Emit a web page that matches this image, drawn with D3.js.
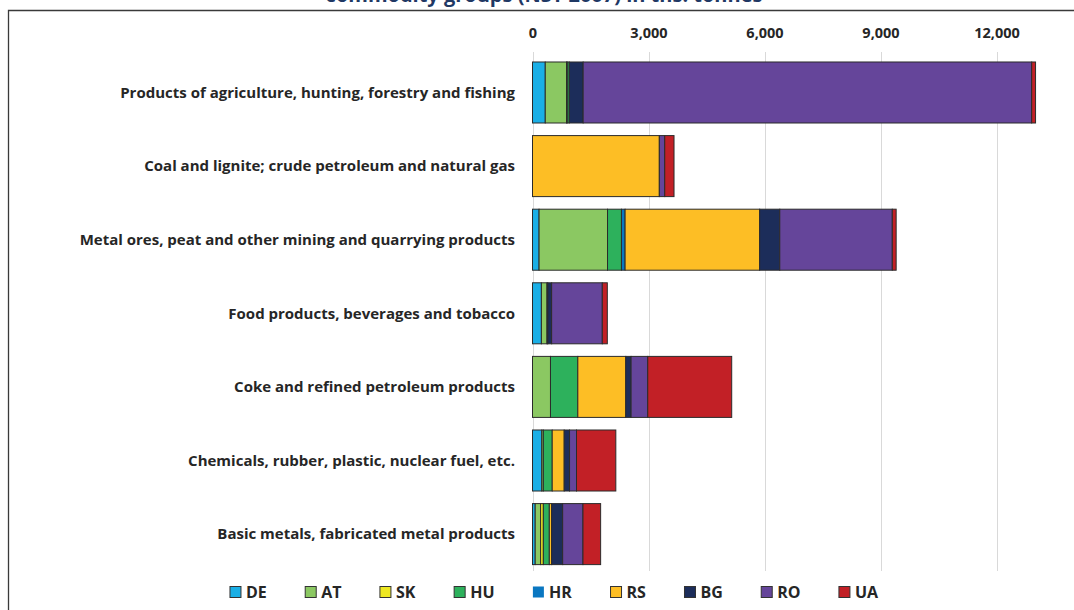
<!DOCTYPE html>
<html>
  <head>
    <title>Commodity groups</title>
    <script src="https://d3js.org/d3.v7.min.js"></script>
    <style type="text/css">
body {
  margin: 0;
  background: #fff;
}
svg {
  display: block;
  font-family: "Open Sans", "DejaVu Sans", sans-serif;
}
.cat text {
  font-size: 15px;
  font-weight: bold;
  fill: #262626;
}
.xaxis text {
  font-size: 14.5px;
  font-weight: bold;
  fill: #262626;
}
line.grid {
  stroke: #d9d9d9;
  stroke-width: 1px;
}
rect.seg {
  stroke: #2b2b2b;
  stroke-width: 1px;
}
.legend text {
  font-size: 16px;
  font-weight: bold;
  fill: #262626;
}
    </style>
  </head>
  <body>
    <script type="text/javascript">

var width = 1074,   // svg width
    height = 610;   // svg height

// commodity groups, top to bottom
var categories = [
  "Products of agriculture, hunting, forestry and fishing",
  "Coal and lignite; crude petroleum and natural gas",
  "Metal ores, peat and other mining and quarrying products",
  "Food products, beverages and tobacco",
  "Coke and refined petroleum products",
  "Chemicals, rubber, plastic, nuclear fuel, etc.",
  "Basic metals, fabricated metal products"
];

var countries = ["DE", "AT", "SK", "HU", "HR", "RS", "BG", "RO", "UA"];
var colors    = ["#1aafe6", "#8bc862", "#eee822", "#2db15c", "#0a77c1", "#fdbe25", "#1c2d5a", "#65459a", "#c22026"];

// ths. tonnes per country, same order as categories
var DE = [330,    0,  170, 230,    0, 240,  70];
var AT = [550,    0, 1770, 145,  465,  40, 140];
var SK = [20,     0,    0,   0,    0,   0,  70];
var HU = [50,     0,  360,  20,  707, 230, 155];
var HR = [0,      0,   95,   0,    0,   0,   0];
var RS = [0,   3280, 3480,   0, 1240, 310,  60];
var BG = [360,    0,  520, 100,  138, 138, 285];
var RO = [11600, 140, 2910, 1310, 430, 180, 525];
var UA = [100,  240,  100, 130, 2172, 1017, 457];

var xTicks = [0, 3000, 6000, 9000, 12000];

var series = {DE: DE, AT: AT, SK: SK, HU: HU, HR: HR, RS: RS, BG: BG, RO: RO, UA: UA};

var rows = categories.map(function(c, i) {
  var r = {category: c};
  countries.forEach(function(k) { r[k] = series[k][i]; });
  return r;
});

var svg = d3.select("body").append("svg")
    .attr("width", width)
    .attr("height", height);

var x = d3.scaleLinear()
    .domain([0, 15000])
    .range([532.5, 1112.5]);

var y = d3.scaleBand()
    .domain(categories)
    .range([49.4, 577.2])
    .padding(0.171);

var color = d3.scaleOrdinal().domain(countries).range(colors);

// title (cut off at top of the picture, as in the source)
svg.append("text")
    .attr("x", 544)
    .attr("y", 2)
    .attr("text-anchor", "middle")
    .style("font-size", "20px")
    .style("font-weight", "bold")
    .style("fill", "#1f3864")
    .text("commodity groups (NST 2007) in ths. tonnes");

// chart frame
svg.append("path")
    .attr("d", "M8.5," + height + "V10.5H" + width)
    .attr("fill", "none")
    .attr("stroke", "#3a3a3a")
    .attr("stroke-width", 1.3);

// gridlines
svg.append("g").selectAll("line.grid")
    .data(xTicks)
  .enter().append("line")
    .attr("class", "grid")
    .attr("x1", function(d) { return Math.round(x(d)) + 0.5; })
    .attr("x2", function(d) { return Math.round(x(d)) + 0.5; })
    .attr("y1", 52)
    .attr("y2", 571);

// top axis labels
var xAxis = svg.append("g")
    .attr("class", "xaxis")
    .attr("transform", "translate(0,38)")
    .call(d3.axisTop(x).tickValues(xTicks).tickSize(0).tickPadding(0).tickFormat(d3.format(",")));
xAxis.select(".domain").remove();
xAxis.attr("font-family", null).attr("font-size", null);

// stacked bars
var stacked = d3.stack().keys(countries)(rows);

svg.append("g").selectAll("g")
    .data(stacked)
  .enter().append("g")
    .attr("fill", function(d) { return color(d.key); })
  .selectAll("rect")
    .data(function(d) { return d.filter(function(s) { return s[1] - s[0] > 0; }); })
  .enter().append("rect")
    .attr("class", "seg")
    .attr("x", function(d) { return x(d[0]); })
    .attr("y", function(d) { return y(d.data.category); })
    .attr("width", function(d) { return x(d[1]) - x(d[0]); })
    .attr("height", y.bandwidth());

// category labels
svg.append("g")
    .attr("class", "cat")
  .selectAll("text")
    .data(categories)
  .enter().append("text")
    .attr("x", 515)
    .attr("y", function(d) { return y(d) + y.bandwidth() / 2; })
    .attr("dy", "0.35em")
    .attr("text-anchor", "end")
    .text(function(d) { return d; });

// legend
var legend = svg.append("g").attr("class", "legend");
var item = legend.selectAll("g")
    .data(countries)
  .enter().append("g");

item.append("rect")
    .attr("width", 11)
    .attr("height", 11)
    .attr("y", -5.5)
    .attr("fill", function(d) { return color(d); })
    .attr("stroke", function(d) { return d == "HR" ? "none" : "#333"; })
    .attr("stroke-width", 1);

item.append("text")
    .attr("x", 16)
    .attr("dy", "0.36em")
    .text(function(d) { return d; });

var lx = 0, gap = 38.4;
item.each(function() {
  var w = this.getBBox().width;
  this.__x = lx;
  lx += w + gap;
});
var total = lx - gap;
var startX = 554.5 - total / 2;
item.attr("transform", function() { return "translate(" + (startX + this.__x) + ",592)"; });

    </script>
  </body>
</html>
